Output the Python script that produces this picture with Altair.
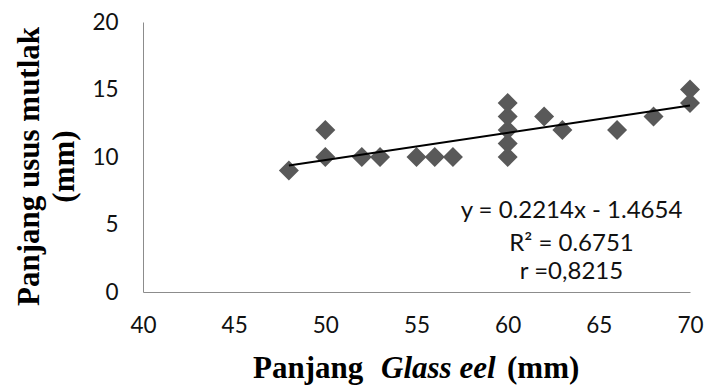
import altair as alt
import pandas as pd

# Data
length_mm = [48, 50, 50, 52, 53, 55, 56, 57, 60, 60, 60, 60, 60, 62, 63, 66, 68, 70, 70]
gut_mm = [9, 10, 12, 10, 10, 10, 10, 10, 10, 11, 12, 13, 14, 13, 12, 12, 13, 14, 15]
x_ticks = [40, 45, 50, 55, 60, 65, 70]
y_ticks = [0, 5, 10, 15, 20]
eq_lines = ["y = 0.2214x - 1.4654", "R² = 0.6751", "r =0,8215"]
eq_x = [63.5, 63.5, 63.5]
eq_y = [5.45, 3.05, 1.0]
xtitle_parts = ["Panjang", "Glass eel", "(mm)"]

W, H = 547, 270

df = pd.DataFrame({"x": length_mm, "y": gut_mm})
eq_df = pd.DataFrame({"x": eq_x, "y": eq_y, "t": eq_lines})

xs = alt.Scale(domain=[40, 70], nice=False, zero=False)
ys = alt.Scale(domain=[0, 20], nice=False)

label_font = "Lato"
title_font = "Liberation Serif"

x_axis = alt.Axis(values=x_ticks, title=None, grid=False, ticks=False, tickSize=0,
                  labelFlush=False,
                  labelFont=label_font, labelFontSize=22.5, labelColor="#111111",
                  labelPadding=22, domainColor="#8c8c8c", domainWidth=1)
y_axis = alt.Axis(values=y_ticks, title=["Panjang usus mutlak", "(mm)"], grid=False,
                  ticks=False, tickSize=0, labelFlush=False,
                  labelFont=label_font, labelFontSize=22.5, labelColor="#111111",
                  labelPadding=25, domainColor="#8c8c8c", domainWidth=1,
                  titleFont=title_font, titleFontSize=31, titleFontWeight="bold",
                  titleColor="#000000", titleX=-98, titleY=144, titleLineHeight=35,
                  titleAngle=270, titleBaseline="bottom", titleAlign="center")

base = alt.Chart(df)

points = base.mark_point(shape="diamond", filled=True, size=400, color="#595959",
                         opacity=1).encode(
    x=alt.X("x:Q", scale=xs, axis=x_axis),
    y=alt.Y("y:Q", scale=ys, axis=y_axis),
)

trend = base.transform_regression("x", "y").mark_line(color="#000000", strokeWidth=2).encode(
    x=alt.X("x:Q", scale=xs),
    y=alt.Y("y:Q", scale=ys),
)

eq_text = alt.Chart(eq_df).mark_text(font=label_font, fontSize=24, color="#111111",
                                     align="center", baseline="alphabetic").encode(
    x=alt.X("x:Q", scale=xs),
    y=alt.Y("y:Q", scale=ys),
    text="t:N",
)

xt1 = alt.Chart(pd.DataFrame({"t": [xtitle_parts[0]]})).mark_text(
    font=title_font, fontSize=31, fontWeight="bold", color="#000000",
    align="left", baseline="alphabetic").encode(
    x=alt.value(110), y=alt.value(356), text="t:N")
xt2 = alt.Chart(pd.DataFrame({"t": [xtitle_parts[1]]})).mark_text(
    font=title_font, fontSize=31, fontWeight="bold", fontStyle="italic", color="#000000",
    align="left", baseline="alphabetic").encode(
    x=alt.value(238), y=alt.value(356), text="t:N")
xt3 = alt.Chart(pd.DataFrame({"t": [xtitle_parts[2]]})).mark_text(
    font=title_font, fontSize=31, fontWeight="bold", color="#000000",
    align="left", baseline="alphabetic").encode(
    x=alt.value(364), y=alt.value(356), text="t:N")

chart = alt.layer(points, trend, eq_text, xt1, xt2, xt3).properties(
    width=W, height=H,
    padding={"left": 143, "top": 22, "right": 16, "bottom": 95},
    autosize=alt.AutoSizeParams(type="none"),
    background="white",
).configure_view(stroke=None)

chart.save("out.html", embed_options={"renderer": "svg", "actions": False})
